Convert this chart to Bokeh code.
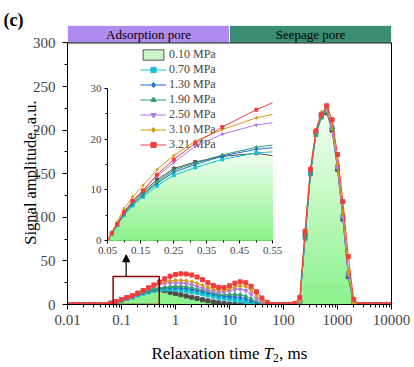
import numpy as np
from bokeh.plotting import figure
from bokeh.models import (Range1d, LinearAxis, FixedTicker, SingleIntervalTicker, Span,
                          Legend, LegendItem, Arrow, NormalHead, PrintfTickFormatter)
from bokeh.layouts import column
from bokeh.embed import file_html
from bokeh.resources import INLINE
from bokeh.core.properties import value

# ---------------- data ----------------
t2 = [0.01, 0.0126, 0.0158, 0.02, 0.0251, 0.0316, 0.0398, 0.0501, 0.0631, 0.0794,
      0.1, 0.126, 0.158, 0.2, 0.251, 0.316, 0.398, 0.501, 0.631, 0.794,
      1.0, 1.26, 1.58, 2.0, 2.51, 3.16, 3.98, 5.01, 6.31, 7.94,
      10, 12.6, 15.8, 20, 25.1, 31.6, 39.8, 50.1, 63.1, 79.4,
      100, 126, 158, 200, 251, 316, 398, 501, 631, 794,
      1000, 1259, 1585, 1995, 2512, 3162, 3981, 5012, 6310, 7943, 10000]

Z8 = [0] * 8
Z7 = [0] * 7

s_010 = Z8 + [1.5, 3.2, 5.5, 7.7, 9.6, 12.0, 14.2, 15.5, 16.6, 17.2,
              16.0, 14.0, 12.5, 11.2, 9.8, 8.4, 7.0, 5.5, 4.2, 3.0,
              2.0, 1.1, 0.5, 0.1, 0, 0, 0, 0, 0, 0] + [0, 0, 0, 0, 0] + \
    [3, 80, 152, 197, 216, 220, 200, 155, 98, 32, 0] + Z7
s_070 = Z8 + [1.3, 3.0, 5.0, 6.9, 8.6, 10.8, 12.9, 14.4, 16.0, 17.3,
              17.8, 17.8, 17.4, 16.7, 15.8, 14.7, 13.5, 12.2, 10.9, 9.6,
              8.4, 7.3, 6.4, 5.5, 4.5, 3.2, 1.8, 0.7, 0.1, 0] + [0, 0, 0, 0, 0] + \
    [2, 76, 150, 196, 217, 223, 203, 158, 101, 35, 1] + Z7
s_130 = Z8 + [1.4, 3.1, 5.2, 7.2, 9.0, 11.3, 13.5, 15.0, 16.7, 18.0,
              18.8, 19.2, 19.2, 18.9, 18.3, 17.4, 16.2, 14.8, 13.3, 11.9,
              10.6, 9.6, 9.0, 8.7, 8.0, 6.5, 4.2, 1.8, 0.4, 0] + [0, 0, 0, 0, 0] + \
    [2, 78, 151, 197, 218, 224, 202, 157, 100, 34, 1] + Z7
s_190 = Z8 + [1.4, 3.1, 5.3, 7.3, 9.2, 11.6, 13.9, 15.3, 16.9, 18.4,
              19.6, 20.5, 20.9, 20.9, 20.4, 19.5, 18.2, 16.6, 14.9, 13.3,
              12.0, 11.3, 11.3, 11.6, 11.2, 9.5, 6.5, 3.0, 0.8, 0] + [0, 0, 0, 0, 0] + \
    [2, 77, 149, 194, 214, 221, 203, 160, 104, 37, 2] + Z7
s_250 = Z8 + [1.5, 3.3, 5.6, 7.8, 9.9, 12.7, 15.4, 18.6, 21.0, 22.8,
              24.0, 24.6, 24.8, 24.5, 23.8, 22.5, 20.8, 18.8, 16.8, 15.0,
              14.0, 14.2, 15.5, 17.0, 17.5, 16.0, 12.0, 6.5, 2.5, 0.5] + [0, 0, 0, 0, 0] + \
    [3, 82, 154, 198, 218, 223, 202, 157, 100, 35, 1] + Z7
s_310 = Z8 + [1.7, 3.6, 6.3, 8.6, 10.9, 14.0, 16.8, 19.6, 21.9, 24.2,
              26.0, 27.2, 27.8, 27.8, 27.2, 26.0, 24.2, 22.0, 19.8, 17.8,
              16.5, 16.5, 18.0, 20.2, 21.5, 20.5, 16.5, 10.5, 4.5, 1.0] + [0, 0, 0, 0, 0] + \
    [4, 85, 156, 200, 220, 225, 205, 161, 104, 38, 2] + Z7
s_321 = Z8 + [1.4, 3.2, 5.6, 7.8, 9.9, 13.0, 16.0, 19.2, 22.4, 25.8,
              29.5, 32.5, 34.3, 35.2, 35.0, 33.8, 31.5, 28.5, 25.0, 21.8,
              19.8, 19.5, 21.5, 24.5, 26.0, 25.0, 21.0, 14.5, 7.5, 2.5] + [0, 0, 0, 0, 1] + \
    [8, 84, 155, 199, 218, 228, 212, 172, 118, 55, 6] + Z7

labels = ["0.10 MPa", "0.70 MPa", "1.30 MPa", "1.90 MPa", "2.50 MPa", "3.10 MPa", "3.21 MPa"]
series = [s_010, s_070, s_130, s_190, s_250, s_310, s_321]
colors = ["#4D4D4D", "#19C3D3", "#1F67DA", "#2E9E6E", "#B07AE6", "#D49A0E", "#F23D3D"]
markers = ["square", "square", "diamond", "triangle", "inverted_triangle", "diamond", "square"]

band_names = ["Adsorption pore", "Seepage pore"]
band_edges = [0.01, 10, 10000]
band_colors = ["#B08AEE", "#3A8C72"]

x_ticks = [0.01, 0.1, 1, 10, 100, 1000, 10000]
x_tick_labels = ["0.01", "0.1", "1", "10", "100", "1000", "10000"]

inset_x_ticks = [0.05, 0.15, 0.25, 0.35, 0.45, 0.55]
inset_y_ticks = [0, 10, 20, 30]

zoom_box = dict(left=0.07, right=0.5, bottom=0, top=32)

FONT = "Liberation Serif"
GRAD_BOTTOM = (138, 242, 138)
GRAD_TOP = (242, 254, 242)

# page geometry (pixels)
W, H = 410, 366
LB, RB, TB, BB = 67, 19, 25, 62


def mix(a, b, f):
    return "#%02x%02x%02x" % tuple(int(round(a[i] + (b[i] - a[i]) * f)) for i in range(3))


def gradient_area(fig, x, y, ymax, n=28):
    y = np.asarray(y, float)
    for j in range(n - 1, -1, -1):
        hi = ymax * (j + 1) / n
        fig.varea(x=x, y1=np.zeros_like(y), y2=np.minimum(y, hi),
                  fill_color=mix(GRAD_BOTTOM, GRAD_TOP, (j + 0.5) / n))


# ---------------- main figure ----------------
p = figure(width=W, height=H, x_axis_type="log",
           x_range=Range1d(0.01, 10000), y_range=Range1d(0, 320),
           output_backend="svg", toolbar_location=None,
           min_border_left=LB, min_border_right=RB, min_border_top=TB, min_border_bottom=BB)
p.frame_align = False
p.outline_line_color = None
p.grid.visible = False

# legend swatch for the filled 0.10 MPa distribution (zero-size, sits on the axis corner)
swatch = p.quad(left=[band_edges[0]], right=[band_edges[0]], bottom=[0], top=[0],
                fill_color="#C9F5C9", line_color="#555555", line_width=1)

gradient_area(p, t2, s_010, 222)

renderers = []
for s, c, m in zip(series, colors, markers):
    lr = p.line(t2, s, line_color=c, line_width=1)
    sr = p.scatter(t2, s, marker=m, size=4, line_color=c, fill_color=c)
    renderers.append([lr, sr])

# header bands
p.quad(left=band_edges[:-1], right=band_edges[1:], bottom=300, top=320,
       fill_color=band_colors, line_color="white", line_width=1)
p.text(x=list(np.sqrt(np.array(band_edges[:-1]) * np.array(band_edges[1:]))), y=[310, 310],
       text=band_names, text_align="center", text_baseline="middle",
       text_font=value(FONT), text_font_size="13px", text_color="black")
p.add_layout(Span(location=300, dimension="width", line_color="black", line_width=1))

# zoom box and arrow
p.quad(left=[zoom_box["left"]], right=[zoom_box["right"]], bottom=[zoom_box["bottom"]],
       top=[zoom_box["top"]], fill_alpha=0, line_color="#8B0000", line_width=1.5)
p.add_layout(Arrow(x_start=0.122, y_start=zoom_box["top"], x_end=0.122, y_end=57,
                   line_width=1.2, line_color="black",
                   end=NormalHead(size=7, fill_color="black", line_color="black")))

# axes
ya = p.yaxis[0]
ya.bounds = (0, 300)
ya.ticker = SingleIntervalTicker(interval=50, num_minor_ticks=2)
ya.major_label_text_font = FONT
ya.major_label_text_font_size = "15px"
ya.major_label_standoff = 7
ya.major_tick_in = 0
ya.major_tick_out = 5
ya.minor_tick_in = 0
ya.minor_tick_out = 3

xa = p.xaxis[0]
xa.ticker = FixedTicker(ticks=x_ticks,
                        minor_ticks=[m * d for d in x_ticks[:-1] for m in range(2, 10)])
xa.major_label_overrides = {t: l for t, l in zip(x_ticks, x_tick_labels)}
xa.major_label_text_font = FONT
xa.major_label_text_font_size = "15px"
xa.major_tick_in = 0
xa.major_tick_out = 5
xa.minor_tick_in = 0
xa.minor_tick_out = 3

ra = LinearAxis(ticker=FixedTicker(ticks=[]), bounds=(0, 300), major_label_text_font_size="0px")
p.add_layout(ra, "right")

# legend
items = [LegendItem(label=labels[0], renderers=[swatch])]
for lab, rr in zip(labels[1:], renderers[1:]):
    items.append(LegendItem(label=lab, renderers=rr))
legend = Legend(items=items, location=(73, 152), padding=0, margin=0,
                border_line_alpha=0, background_fill_alpha=0,
                glyph_width=26, glyph_height=13, label_height=13, spacing=0,
                label_standoff=3, label_text_font=FONT, label_text_font_size="12px")
p.add_layout(legend)

# ---------------- inset ----------------
ins = figure(width=201, height=178, x_range=Range1d(0.05, 0.55), y_range=Range1d(0, 30),
             output_backend="svg", toolbar_location=None,
             min_border_left=22, min_border_right=14, min_border_top=8, min_border_bottom=18)
ins.frame_align = False
ins.background_fill_alpha = 0
ins.border_fill_alpha = 0
ins.outline_line_color = None
ins.grid.visible = False

gradient_area(ins, t2, s_010, 18)
for s, c, m in zip(series, colors, markers):
    ins.line(t2, s, line_color=c, line_width=1)
    ins.scatter(t2, s, marker=m, size=3, line_color=c, fill_color=c)

ix = ins.xaxis[0]
ix.ticker = FixedTicker(ticks=inset_x_ticks, minor_ticks=[0.1, 0.2, 0.3, 0.4, 0.5])
ix.formatter = PrintfTickFormatter(format="%.2f")
iy = ins.yaxis[0]
iy.ticker = FixedTicker(ticks=inset_y_ticks, minor_ticks=[5, 15, 25])
for a in (ix, iy):
    a.major_label_text_font = FONT
    a.major_label_text_font_size = "11px"
    a.major_tick_in = 0
    a.major_tick_out = 3
    a.minor_tick_in = 0
    a.minor_tick_out = 2
    a.major_label_standoff = 3
ix.axis_line_color = "#66D466"

ins_left, ins_top = 85, 80
ins.margin = (ins_top - H, 0, 0, ins_left)

# ---------------- text overlay (page-pixel frame) ----------------
ov = figure(width=W, height=H, x_range=Range1d(0, W), y_range=Range1d(H, 0),
            output_backend="svg", toolbar_location=None, title_location=None,
            x_axis_location=None, y_axis_location=None,
            min_border_left=0, min_border_right=0, min_border_top=0, min_border_bottom=0)
ov.frame_align = False
ov.background_fill_alpha = 0
ov.border_fill_alpha = 0
ov.outline_line_color = None
ov.grid.visible = False

tkw = dict(text_font=value(FONT), text_color="black", text_baseline="alphabetic")
ov.text(x=[259], y=[353], text=["Relaxation time"], text_align="right", text_font_size="17px", **tkw)
ov.text(x=[263], y=[353], text=["T"], text_align="left", text_font_size="17px",
        text_font_style="italic", **tkw)
ov.text(x=[272.5], y=[357], text=["2"], text_align="left", text_font_size="11.5px", **tkw)
ov.text(x=[278.5], y=[353], text=[", ms"], text_align="left", text_font_size="17px", **tkw)
ov.text(x=[3], y=[19], text=["(c)"], text_align="left", text_font_size="18px",
        text_font_style="bold", **tkw)
ov.text(x=[30], y=[172], text=["Signal amplitude, a.u."], angle=np.pi / 2,
        text_align="center", text_font_size="16.5px", **tkw)

ov.margin = (-(ins_top + 178), 0, 0, 0)

layout = column(p, ins, ov)
open("out.html", "w").write(file_html(layout, INLINE))
